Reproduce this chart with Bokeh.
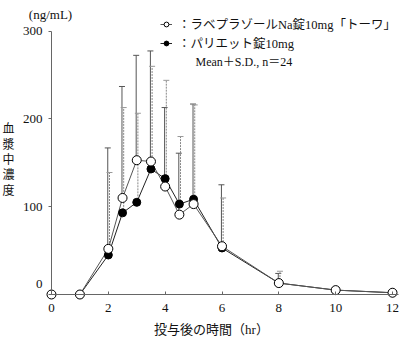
import numpy as np
from bokeh.plotting import figure
from bokeh.models import (ColumnDataSource, Range1d, Label, Legend, LegendItem,
                          FixedTicker)
from bokeh.transform import dodge
from bokeh.embed import file_html
from bokeh.resources import INLINE

# ---------------- data ----------------
time_hr = [0, 1, 2, 2.5, 3, 3.5, 4, 4.5, 5, 6, 8, 10, 12]
towa_mean = [0, 0, 52, 110, 153, 151.5, 123, 91, 103, 55, 13, 5, 2]
towa_sd = [np.nan, np.nan, 115, 127, 119.5, 126, 90, 70, 114, 70, 11, np.nan, np.nan]
pariet_mean = [0, 0, 45, 93, 105, 143, 132, 103, 108.5, 53, 13, 5, 2]
pariet_sd = [np.nan, np.nan, 94, 120, 101.5, 117, 112, 77, 107.5, 57, 13.5, np.nan, np.nan]

x_ticks = [0, 2, 4, 6, 8, 10, 12]
y_ticks = [0, 100, 200, 300]

label_towa = "：ラベプラゾールNa錠10mg「トーワ」"
label_pariet = "：パリエット錠10mg"
note_text = "Mean＋S.D., n＝24"
y_unit = "(ng/mL)"
y_title = "血漿中濃度"
x_title = "投与後の時間（hr）"

FONT = "Liberation Serif, Noto Sans CJK JP"
CJK = "Noto Sans CJK JP"

src = ColumnDataSource(dict(
    t=time_hr,
    a=towa_mean, a_top=[m + s for m, s in zip(towa_mean, towa_sd)],
    b=pariet_mean, b_top=[m + s for m, s in zip(pariet_mean, pariet_sd)],
))

W, H = 400, 340

p = figure(width=W, height=H, output_backend="svg", toolbar_location=None,
           x_range=Range1d(-1.7947, 12.2814), y_range=Range1d(-52.41, 334.97),
           min_border=0)
p.outline_line_color = None
p.grid.visible = False
p.background_fill_color = "white"

# axes (fixed at the data origin)
for ax in (p.xaxis[0], p.yaxis[0]):
    ax.fixed_location = 0
    ax.axis_line_color = "#666666"
    ax.major_tick_line_color = "#666666"
    ax.minor_tick_line_color = None
    ax.major_label_text_font = FONT
    ax.major_label_text_font_size = "13px"
    ax.major_label_text_color = "#111111"

p.xaxis.ticker = FixedTicker(ticks=x_ticks)
p.xaxis.bounds = (0, 12.2)
p.xaxis.major_tick_in = 3
p.xaxis.major_tick_out = 0
p.xaxis.major_label_standoff = 9

p.yaxis.ticker = FixedTicker(ticks=y_ticks)
p.yaxis.bounds = (0, 300)
p.yaxis.major_tick_in = 0
p.yaxis.major_tick_out = 3
p.yaxis.major_label_standoff = 6
p.yaxis.major_label_overrides = {0: ""}

# error bars: solid for トーワ, dashed for パリエット
p.segment(x0=dodge("t", -0.02), y0="a", x1=dodge("t", -0.02), y1="a_top",
          source=src, line_color="#555555", line_width=1)
p.scatter(x=dodge("t", -0.02), y="a_top", source=src, marker="dash", size=6,
          line_color="#555555", line_width=1)
p.segment(x0=dodge("t", 0.04), y0="b", x1=dodge("t", 0.04), y1="b_top",
          source=src, line_color="#888888", line_width=1, line_dash="2 1")
p.scatter(x=dodge("t", 0.04), y="b_top", source=src, marker="dash", size=6,
          line_color="#999999", line_width=1)

# series
line_b = p.line("t", "b", source=src, line_color="#222222", line_width=1)
line_a = p.line("t", "a", source=src, line_color="#555555", line_width=1)
pts_b = p.scatter("t", "b", source=src, marker="circle", size=8,
                  fill_color="black", line_color="black")
pts_a = p.scatter("t", "a", source=src, marker="circle", size=9,
                  fill_color="white", line_color="black", line_width=1)

legend = Legend(items=[LegendItem(label=label_towa, renderers=[line_a, pts_a]),
                       LegendItem(label=label_pariet, renderers=[line_b, pts_b])],
                location=(160, H - 52), orientation="vertical",
                glyph_width=12, glyph_height=14, label_height=18, spacing=0,
                padding=0, margin=0, label_standoff=6,
                border_line_alpha=0, background_fill_alpha=0,
                label_text_font=FONT, label_text_font_size="12.5px",
                label_text_color="#111111")
p.add_layout(legend)


def add_text(text, sx, sy, align="left", size="13px", font=FONT, **kw):
    p.add_layout(Label(x=sx, y=H - sy, x_units="screen", y_units="screen",
                       text=text, text_align=align, text_baseline="middle",
                       text_font=font, text_font_size=size, text_color="#111111",
                       **kw))


add_text(note_text, 195, 61, size="12px")
add_text(y_unit, 50, 14, align="center")
add_text("0", 42, 283, align="right")
add_text(x_title, 211, 329, align="center")
add_text("\n".join(y_title), 8, 158, align="center", size="12px", font=CJK,
         text_line_height=0.9)

open("out.html", "w").write(file_html(p, INLINE))
